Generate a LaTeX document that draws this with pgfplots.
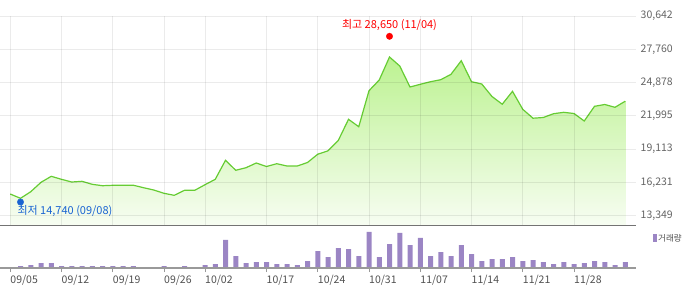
\documentclass[border=0pt]{standalone}
\usepackage{fontspec}
\setmainfont{Noto Sans CJK KR}
\usepackage{pgfplots}
\usepackage{pgfplotstable}
\pgfplotsset{compat=1.18}

\definecolor{linegreen}{RGB}{102,204,51}
\definecolor{filltop}{RGB}{188,242,145}
\definecolor{fillbot}{RGB}{247,253,242}
\definecolor{barcol}{RGB}{155,133,196}
\definecolor{lowblue}{RGB}{25,100,210}
\definecolor{highred}{RGB}{255,0,0}
\definecolor{ticktxt}{RGB}{100,100,100}
\definecolor{xtxt}{RGB}{80,80,80}

\pgfplotstableread{
i price
0 15227
1 14855
2 15426
3 16240
4 16760
5 16500
6 16266
7 16327
8 16067
9 15946
10 15981
11 15981
12 15990
13 15773
14 15574
15 15288
16 15115
17 15548
18 15548
19 16033
20 16500
21 18146
22 17280
23 17505
24 17912
25 17609
26 17851
27 17652
28 17652
29 17955
30 18674
31 18968
32 19860
33 21696
34 21055
35 24173
36 25100
37 27091
38 26312
39 24493
40 24727
41 24952
42 25126
43 25593
44 26771
45 24952
46 24753
47 23671
48 23004
49 24121
50 22562
51 21791
52 21852
53 22181
54 22302
55 22198
56 21549
57 22822
58 22978
59 22735
60 23264
}\pricetab

\pgfplotstableread{
i vol
0 1
1 2
2 3
3 5
4 5
5 2
6 2
7 2
8 2
9 2
10 2
11 2
12 2
13 1
14 1
15 2
16 1
17 2
18 1
19 3
20 4
21 28
22 12
23 5
24 6
25 6
26 4
27 4
28 3
29 7
30 17
31 11
32 20
33 19
34 12
35 36
36 11
37 24
38 35
39 23
40 30
41 12
42 16
43 12
44 23
45 14
46 7
47 9
48 9
49 11
50 7
51 8
52 6
53 4
54 6
55 4
56 5
57 7
58 6
59 3
60 6
}\voltab

\begin{document}
\begin{tikzpicture}
\path[use as bounding box] (0pt,0pt) rectangle (700pt,289pt);

% price panel
\begin{axis}[
  at={(0pt,63.7pt)}, anchor=south west,
  scale only axis, width=635.5pt, height=209.3pt,
  xmin=-1, xmax=61, ymin=12518, ymax=30642,
  axis line style={draw=none},
  axis on top,
  major tick length=0pt,
  xtick={0,5,10,15,19,25,30,35,40,45,50,55},
  xticklabels={},
  ytick={13349,16231,19113,21995,24878,27760,30642},
  yticklabel pos=right,
  scaled y ticks=false,
  yticklabel style={font=\fontsize{10.5}{12}\selectfont, text=ticktxt, anchor=west, inner sep=0pt, xshift=5pt,
    /pgf/number format/1000 sep={,}, /pgf/number format/assume math mode=true},
  grid=major,
  grid style={black, opacity=0.08, line width=0.9pt},
  clip=false,
]
\addplot[draw=none, top color=filltop, bottom color=fillbot] table[x=i, y=price] {\pricetab}
  -- (axis cs:60,12518) -- (axis cs:0,12518) -- cycle;
\addplot[color=linegreen, line width=1.2pt, mark=none] table[x=i, y=price] {\pricetab};
\addplot[only marks, mark=*, mark size=3.2pt, color=highred, mark options={yshift=2.7pt}] coordinates {(37,28650)};
\addplot[only marks, mark=*, mark size=3.2pt, color=lowblue, mark options={yshift=-2.4pt}] coordinates {(1,14740)};
\node[text=highred, font=\fontsize{11}{12}\selectfont, inner sep=0pt] at (axis cs:37,28650) [yshift=14pt] {최고 28,650 (11/04)};
\node[text=lowblue, font=\fontsize{11}{12}\selectfont, anchor=west, inner sep=0pt] at (axis cs:1,14740) [xshift=-3.2pt, yshift=-11.7pt] {최저 14,740 (09/08)};
\end{axis}

% volume panel
\begin{axis}[
  at={(0pt,21pt)}, anchor=south west,
  scale only axis, width=635.5pt, height=42.7pt,
  xmin=-1, xmax=61, ymin=0, ymax=42.7,
  axis line style={draw=none},
  ybar, bar width=5pt,
  ytick=\empty,
  xtick={0,5,10,15,19,25,30,35,40,45,50,55},
  xticklabels={09/05,09/12,09/19,09/26,10/02,10/17,10/24,10/31,11/07,11/14,11/21,11/28},
  xtick pos=left,
  tick align=outside,
  major tick length=4pt,
  xtick style={draw=gray!80, line width=1pt},
  xticklabel style={font=\fontsize{10.5}{12}\selectfont, text=xtxt, inner sep=0pt, anchor=base west, yshift=-11pt},
  clip=false,
]
\addplot[fill=barcol, draw=none] table[x=i, y=vol] {\voltab};
\draw[color=gray!80, line width=1.2pt] (rel axis cs:0,0) -- (rel axis cs:1,0);
\draw[color=black!55, line width=1pt] (rel axis cs:0,1) -- (rel axis cs:1,1);
\end{axis}

% legend
\fill[barcol] (652.7pt,47.3pt) rectangle (656.7pt,55pt);
\node[anchor=west, inner sep=0pt, font=\fontsize{8.5}{10}\selectfont, text=xtxt] at (658pt,51pt) {거래량};
\end{tikzpicture}
\end{document}
